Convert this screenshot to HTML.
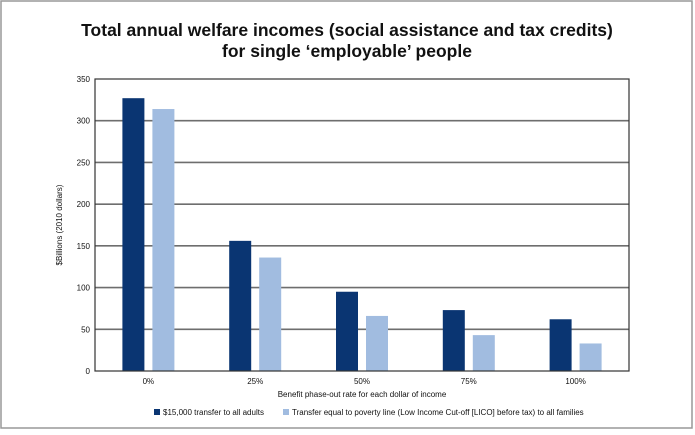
<!DOCTYPE html>
<html><head><meta charset="utf-8"><style>
body{margin:0;background:#fff;font-family:"Liberation Sans",sans-serif}
#wrap{position:relative;width:695px;height:430px}
</style></head><body>
<div id="wrap">
<svg id="svg" width="695" height="430" xmlns="http://www.w3.org/2000/svg">
<rect x="1" y="1" width="691" height="427" fill="#fff" stroke="#999" stroke-width="1.5"/>
<text x="347" y="36" text-anchor="middle" font-size="17.5" font-weight="bold" fill="#111">Total annual welfare incomes (social assistance and tax credits)</text>
<text x="347" y="57" text-anchor="middle" font-size="17.5" font-weight="bold" fill="#111">for single ‘employable’ people</text>
<g id="grid"></g><g id="bars"></g><g id="axes"></g>
<text transform="translate(62,225) rotate(-90)" text-anchor="middle" font-size="8" fill="#111">$Billions (2010 dollars)</text>
<text x="362" y="397" text-anchor="middle" font-size="8" fill="#111">Benefit phase-out rate for each dollar of income</text>
<g>
<rect x="154" y="409" width="6" height="6" fill="#0a3572"/>
<text x="163" y="415" font-size="8" fill="#111">$15,000 transfer to all adults</text>
<rect x="283" y="409" width="6" height="6" fill="#a1bce0"/>
<text x="292" y="415" font-size="8" fill="#111">Transfer equal to poverty line (Low Income Cut-off [LICO] before tax) to all families</text>
</g>
</svg></div>
<script>
const categories=["0%","25%","50%","75%","100%"];
const series15000=[327,156,95,73,62];
const seriesLico=[314,136,66,43,33];
const yTicks=[0,50,100,150,200,250,300,350];
const NS="http://www.w3.org/2000/svg";
const L=95,R=629,T=79,B=371,YMAX=350;
const y=v=>B-(v/YMAX)*(B-T);
const band=(R-L)/categories.length;
const cx=i=>L+band*(i+0.5);
function mk(tag,attrs,parent){const e=document.createElementNS(NS,tag);for(const k in attrs)e.setAttribute(k,attrs[k]);parent.appendChild(e);return e;}
const grid=document.getElementById('grid'),bars=document.getElementById('bars'),axes=document.getElementById('axes');
yTicks.forEach(t=>{
  if(t>0&&t<YMAX){const g=mk('line',{x1:L,x2:R,y1:y(t),y2:y(t),stroke:'#6e6e6e','stroke-width':1.6},grid);
  
  }
  const tx=mk('text',{x:L-5,y:y(t)+3,'text-anchor':'end','font-size':8,fill:'#111'},axes);
  tx.textContent=t;
  
  
});
const bw=22,gap=8;
categories.forEach((c,i)=>{
  const c1=mk('rect',{x:cx(i)-gap/2-bw,y:y(series15000[i]),width:bw,height:B-y(series15000[i]),fill:'#0a3572'},bars);
  
  
  const c2=mk('rect',{x:cx(i)+gap/2,y:y(seriesLico[i]),width:bw,height:B-y(seriesLico[i]),fill:'#a1bce0'},bars);
  
  
  const tx=mk('text',{x:cx(i),y:384,'text-anchor':'middle','font-size':8,fill:'#111'},axes);
  tx.textContent=c;
  
  
});
const frame=mk('rect',{x:L,y:T,width:R-L,height:B-T,fill:'none',stroke:'#333','stroke-width':1.2},axes);


</script>
</body></html>
